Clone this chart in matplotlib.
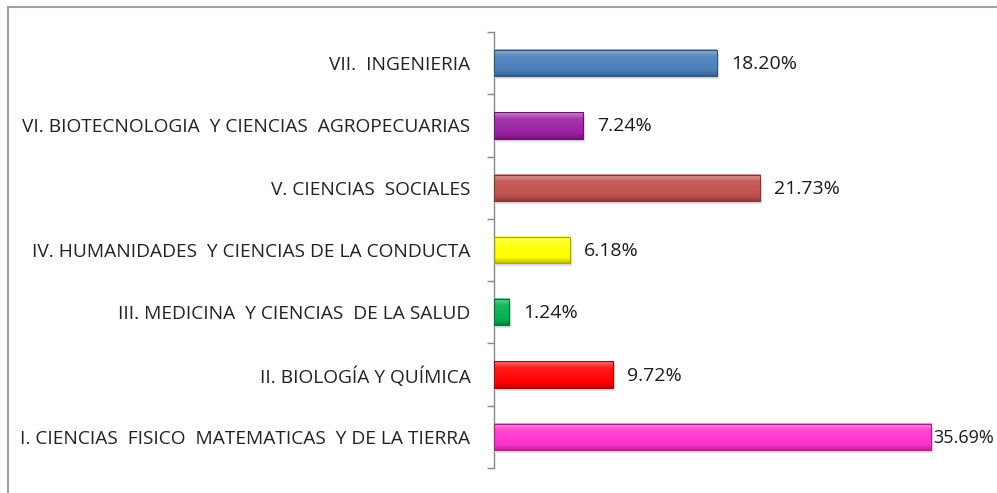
import numpy as np
import matplotlib
matplotlib.use("Agg")
import matplotlib.pyplot as plt
from matplotlib.colors import to_rgb
from matplotlib.lines import Line2D

categories = [
    "I. CIENCIAS  FISICO  MATEMATICAS  Y DE LA TIERRA",
    "II. BIOLOGÍA Y QUÍMICA",
    "III. MEDICINA  Y CIENCIAS  DE LA SALUD",
    "IV. HUMANIDADES  Y CIENCIAS DE LA CONDUCTA",
    "V. CIENCIAS  SOCIALES",
    "VI. BIOTECNOLOGIA  Y CIENCIAS  AGROPECUARIAS",
    "VII.  INGENIERIA",
]
values = [35.69, 9.72, 1.24, 6.18, 21.73, 7.24, 18.20]
value_labels = ["35.69%", "9.72%", "1.24%", "6.18%", "21.73%", "7.24%", "18.20%"]
colors = ["#FF33CC", "#FF0000", "#00B050", "#FFFF00", "#C0504D", "#9A1FA0", "#4A7EBB"]

plt.rcParams['font.family'] = ['Open Sans', 'DejaVu Sans']

fig = plt.figure(figsize=(9.97, 4.93), dpi=100)
ax = fig.add_axes([494/997, 25/493, 490/997, 436/493])

n = len(categories)
ypos = np.arange(n)
h = 0.42

def mix(c, t, amt):
    c = np.array(to_rgb(c)); t = np.array(t)
    return c + (t - c) * amt

for y, v, c in zip(ypos, values, colors):
    # shadow
    ax.barh(y - 0.05, v, height=h, left=0.15, color="#000000", alpha=0.12, zorder=1, linewidth=0)
    # gradient body
    grad = np.linspace(0, 1, 64)
    rows = []
    for g in grad:
        if g > 0.75:
            col = mix(c, (1, 1, 1), 0.35 * (g - 0.75) / 0.25 + 0.1)
        elif g < 0.2:
            col = mix(c, (0, 0, 0), 0.25 * (0.2 - g) / 0.2)
        else:
            col = mix(c, (1, 1, 1), 0.1 * (g - 0.2) / 0.55)
        rows.append(np.clip(col, 0, 1))
    img = np.array(rows)[::-1][:, None, :]
    ax.imshow(img, extent=(0, v, y - h / 2, y + h / 2), aspect="auto",
              interpolation="bilinear", zorder=2)
    ax.barh(y, v, height=h, color="none", edgecolor=mix(c, (0, 0, 0), 0.35),
            linewidth=0.8, zorder=3)

for y, v, lab in zip(ypos, values, value_labels):
    is_max = v == max(values)
    off = 2 if is_max else 14
    ax.annotate(lab, (v, y), xytext=(off, -1), textcoords="offset pixels",
                va="center", ha="left", fontsize=13.0 if is_max else 14.0,
                color="#1a1a1a")

ax.set_xlim(0, 40)
ax.set_ylim(-0.5, n - 0.5)
ax.set_yticks(ypos)
ax.set_yticklabels(categories, fontsize=13.8, color="#222222")
ax.set_yticks(np.arange(-0.5, n, 1.0), minor=True)
ax.tick_params(axis="y", which="major", length=0, pad=17)
ax.tick_params(axis="y", which="minor", length=5, width=1, color="#888888", direction="out")
ax.set_xticks([])
for s in ["top", "right", "bottom"]:
    ax.spines[s].set_visible(False)
ax.spines["left"].set_color("#888888")
ax.spines["left"].set_linewidth(1)

# outer chart frame (top and left edges)
fig.add_artist(Line2D([8/997, 1], [1 - 7/493, 1 - 7/493], transform=fig.transFigure,
                      color="#A0A0A0", linewidth=1.5))
fig.add_artist(Line2D([8/997, 8/997], [0, 1 - 7/493], transform=fig.transFigure,
                      color="#A0A0A0", linewidth=1.5))

fig.savefig("out.png", dpi=100)
